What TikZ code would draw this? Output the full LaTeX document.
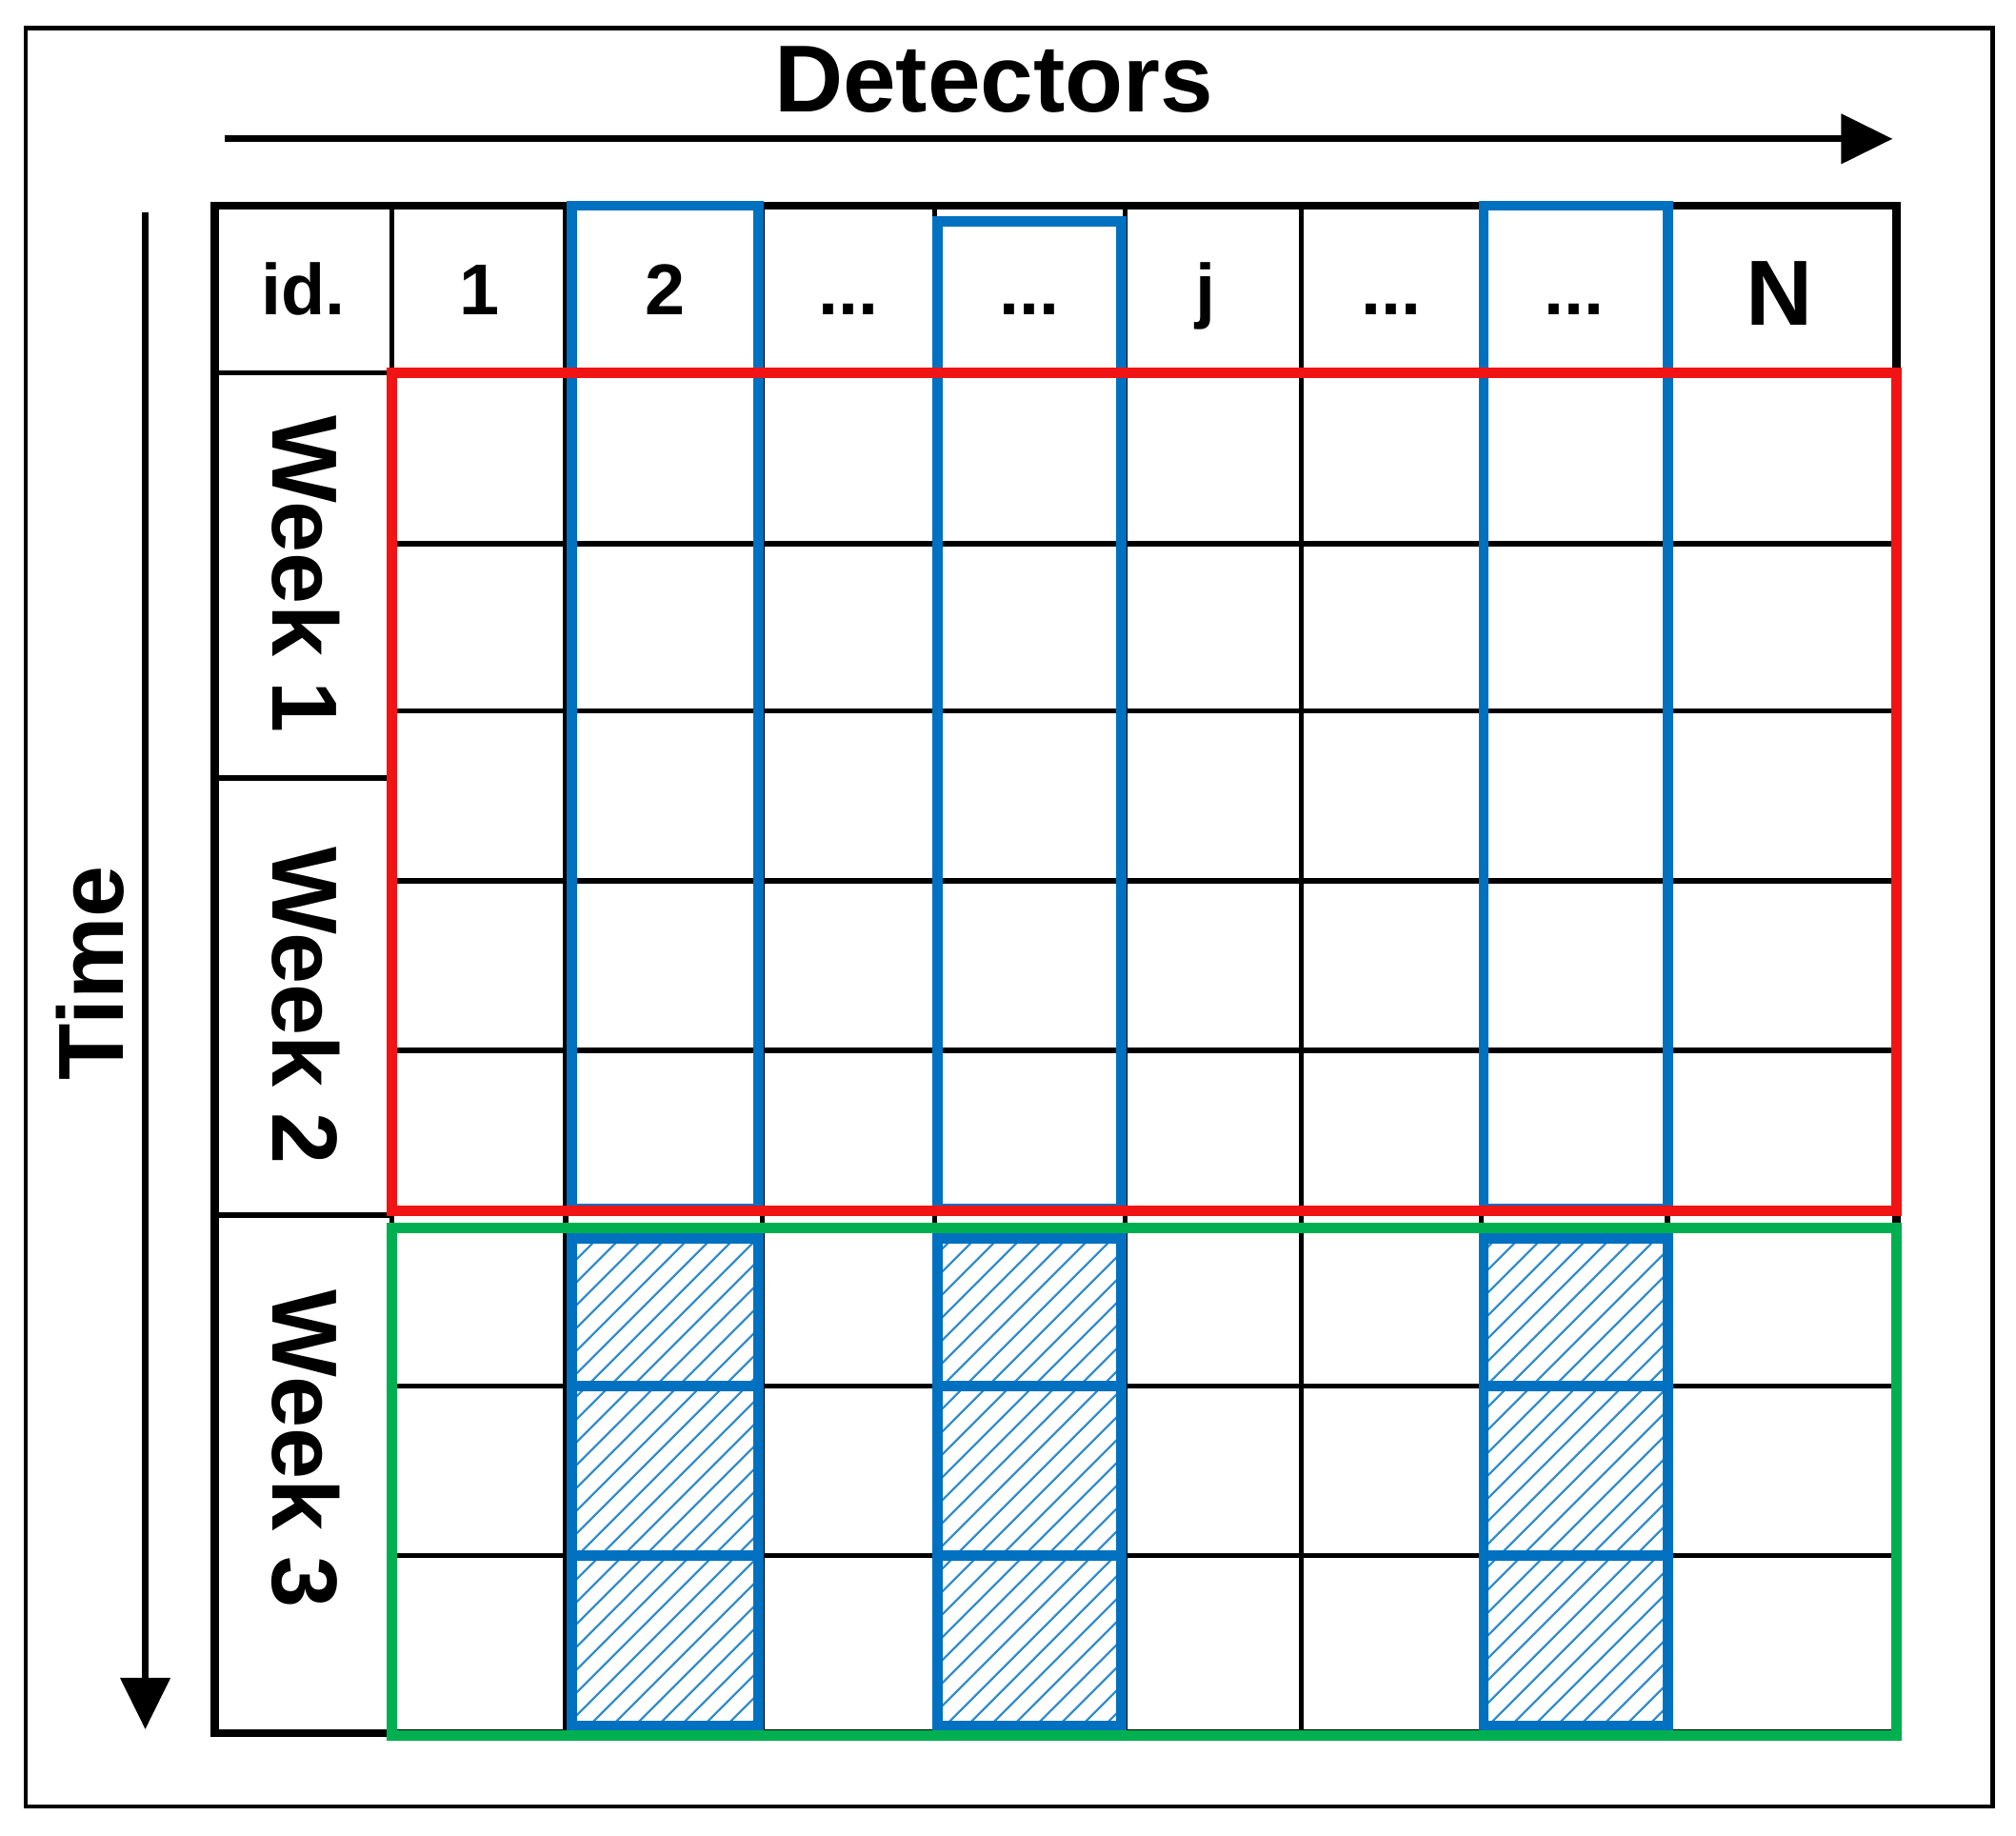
\documentclass[tikz,border=0pt]{standalone}
\usepackage{fontspec}
\setmainfont{Liberation Sans}
\usetikzlibrary{arrows.meta,patterns.meta}
\definecolor{cred}{RGB}{240,20,20}
\definecolor{cblue}{RGB}{0,112,192}
\definecolor{cgreen}{RGB}{0,176,80}
\begin{document}
\begin{tikzpicture}[x=1pt,y=-1pt,
  grid/.style={black,line width=4pt},
  hdr/.style={font=\bfseries\fontsize{56}{60}\selectfont,anchor=base},
  wk/.style={font=\bfseries\fontsize{72}{72}\selectfont,rotate=-90,anchor=center},
  bluebox/.style={cblue,line width=8pt},
  arr/.style={line width=5pt,-{Triangle[length=40pt,width=38pt]}}]
\useasboundingbox (0,0) rectangle (1568,1428);
\draw[line width=3.5pt] (20,22) rectangle (1550,1405);
% hatch
\foreach \x/\w in {447/588,730/870,1155/1295}
  \fill[pattern={Lines[angle=45,distance=13pt,line width=1.8pt]},pattern color=cblue!80] (\x,965) rectangle (\w,1340);
% grid
\foreach \y in {423,553,685,817,1078,1210} \draw[grid] (305,\y) -- (1475,\y);
\foreach \x in {305,440,593,727,875,1012,1152,1297} \draw[grid] (\x,160) -- (\x,1348);
\draw[grid] (167,290) -- (1475,290);
\draw[grid] (167,605) -- (305,605);
\draw[grid] (167,945) -- (305,945);
\draw[line width=6pt] (167,160) rectangle (1475,1348);
% blue
\foreach \x/\w/\t in {445/590/160,729/872/172,1154/1297/160}{
  \draw[bluebox] (\x,\t) rectangle (\w,940);
  \draw[bluebox] (\x,963) rectangle (\w,1342);
  \draw[bluebox] (\x,1078) -- (\w,1078);
  \draw[bluebox] (\x,1210) -- (\w,1210);
}
\draw[cred,line width=8pt] (305,290) rectangle (1475,942);
\draw[cgreen,line width=8pt] (305,955) rectangle (1475,1350);
% header texts
\node[hdr] (hid) at (236,245) {id.};
\node[hdr] (h1) at (373,245) {1};
\node[hdr] (h2) at (517,245) {2};
\node[hdr] (h3) at (660,245) {...};
\node[hdr] (h4) at (801,245) {...};
\node[hdr] (hj) at (938,245) {j};
\node[hdr] (h6) at (1082,245) {...};
\node[hdr] (h7) at (1224,245) {...};
\node[hdr,font=\bfseries\fontsize{72}{76}\selectfont] (hN) at (1384,253) {N};
\node[wk] (w1) at (238,447) {Week 1};
\node[wk] (w2) at (238,782) {Week 2};
\node[wk] (w3) at (238,1127) {Week 3};
\node[font=\bfseries\fontsize{74}{76}\selectfont] (det) at (773,62) {Detectors};
\node[font=\bfseries\fontsize{72}{76}\selectfont,rotate=90] (time) at (70,757) {Time};
\coordinate (a1) at (175,108); \coordinate (a2) at (1472,108);
\coordinate (b1) at (113,165); \coordinate (b2) at (113,1345);
\draw[arr] (a1) -- (a2);
\draw[arr] (b1) -- (b2);
\end{tikzpicture}
\end{document}
